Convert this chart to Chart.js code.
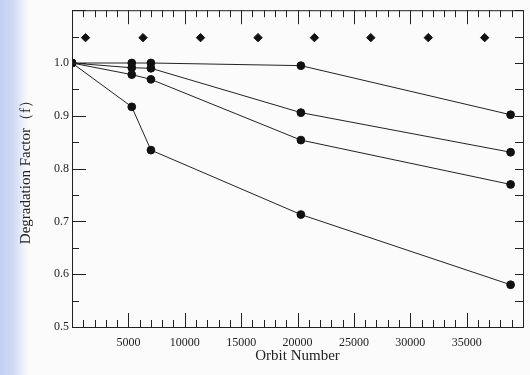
<!DOCTYPE html>
<html>
<head>
<meta charset="utf-8">
<script src="https://cdn.jsdelivr.net/npm/chart.js@4"></script>
<style>
  html, body { margin: 0; padding: 0; }
  body {
    width: 530px; height: 375px; overflow: hidden;
    background: linear-gradient(to right, #c2cff0 0px, #d0daf4 14px, #eaeefa 22px, #fbfbfb 29px);
  }
  #wrap { position: relative; width: 530px; height: 375px; }
</style>
</head>
<body>
<div id="wrap"><canvas id="chart"></canvas></div>
<script>
// orbit numbers where the measured points sit
const orbitX = [0, 5300, 7000, 20300, 38900];
const seriesA = [1.0, 1.0, 1.0, 0.995, 0.902];
const seriesB = [1.0, 0.991, 0.99, 0.906, 0.831];
const seriesC = [1.0, 0.978, 0.969, 0.854, 0.77];
const seriesD = [1.0, 0.917, 0.835, 0.713, 0.58];

// row of diamonds near the top
const diamondX = [1200, 6300, 11400, 16500, 21500, 26500, 31600, 36600];
const diamondY = [1.048, 1.048, 1.048, 1.048, 1.048, 1.048, 1.048, 1.048];

const xTicks = [5000, 10000, 15000, 20000, 25000, 30000, 35000];
const yTicks = [0.5, 0.6, 0.7, 0.8, 0.9, 1.0];

const serif = "'Liberation Serif', 'DejaVu Serif', serif";

function pts(xs, ys) {
  return xs.map((x, i) => ({ x: x, y: ys[i] }));
}

function lineSet(ys) {
  return {
    data: pts(orbitX, ys),
    showLine: true,
    borderColor: "#222",
    borderWidth: 1,
    pointRadius: 3.9,
    pointBackgroundColor: "#111",
    pointBorderColor: "#111",
  };
}

// inward tick marks + frame, drawn from the chart's own scales
const frameTicks = {
  id: "frameTicks",
  afterDatasetsDraw(chart) {
    const { ctx, chartArea: a, scales: { x, y } } = chart;
    ctx.save();
    ctx.strokeStyle = "#222";
    ctx.lineWidth = 1;
    ctx.strokeRect(a.left + 0.5, a.top + 0.5, a.right - a.left, a.bottom - a.top);
    ctx.beginPath();
    for (let v = 0; v <= 40000; v += 1000) {
      const px = Math.round(x.getPixelForValue(v)) + 0.5;
      const len = v % 5000 === 0 ? 14 : 7;
      ctx.moveTo(px, a.bottom); ctx.lineTo(px, a.bottom - len);
      ctx.moveTo(px, a.top); ctx.lineTo(px, a.top + len);
    }
    for (let i = 10; i <= 22; i++) {
      const v = i * 0.05;
      const py = Math.round(y.getPixelForValue(v)) + 0.5;
      const len = i % 2 === 0 ? 14 : 7;
      ctx.moveTo(a.left, py); ctx.lineTo(a.left + len, py);
      ctx.moveTo(a.right, py); ctx.lineTo(a.right - 8, py);
    }
    ctx.stroke();
    ctx.restore();
  }
};

const ctx = document.getElementById("chart").getContext("2d");
new Chart(ctx, {
  type: "scatter",
  data: {
    datasets: [
      lineSet(seriesA),
      lineSet(seriesB),
      lineSet(seriesC),
      lineSet(seriesD),
      {
        data: pts(diamondX, diamondY),
        pointStyle: "rectRot",
        pointRadius: 4.2,
        pointBackgroundColor: "#111",
        pointBorderColor: "#111",
        showLine: false,
      }
    ]
  },
  options: {
    responsive: true,
    maintainAspectRatio: false,
    animation: false,
    layout: { padding: { top: 4, right: 7, left: 0, bottom: 0 } },
    plugins: {
      legend: { display: false },
      tooltip: { enabled: false },
    },
    scales: {
      x: {
        type: "linear",
        min: 0, max: 40000,
        afterFit(scale) { scale.height = 48; },
        afterBuildTicks(scale) { scale.ticks = xTicks.map(v => ({ value: v })); },
        grid: { display: false, drawTicks: false },
        border: { display: false },
        ticks: {
          padding: 9,
          maxRotation: 0,
          autoSkip: false,
          color: "#222",
          font: { family: serif, size: 12 },
          callback: v => String(v),
        },
        title: {
          display: true,
          text: "Orbit Number",
          color: "#222",
          font: { family: serif, size: 15 },
          padding: { top: 0, bottom: 10 },
        },
      },
      y: {
        type: "linear",
        min: 0.5, max: 1.1,
        afterFit(scale) { scale.width = 72; },
        afterBuildTicks(scale) { scale.ticks = yTicks.map(v => ({ value: v })); },
        grid: { display: false, drawTicks: false },
        border: { display: false },
        ticks: {
          padding: 3,
          autoSkip: false,
          color: "#222",
          font: { family: serif, size: 12 },
          callback: v => v.toFixed(1),
        },
        title: {
          display: true,
          text: "Degradation Factor（f）",
          color: "#222",
          font: { family: serif, size: 15 },
          padding: { top: 17, bottom: 0 },
        },
      },
    },
  },
  plugins: [frameTicks],
});
</script>
</body>
</html>
